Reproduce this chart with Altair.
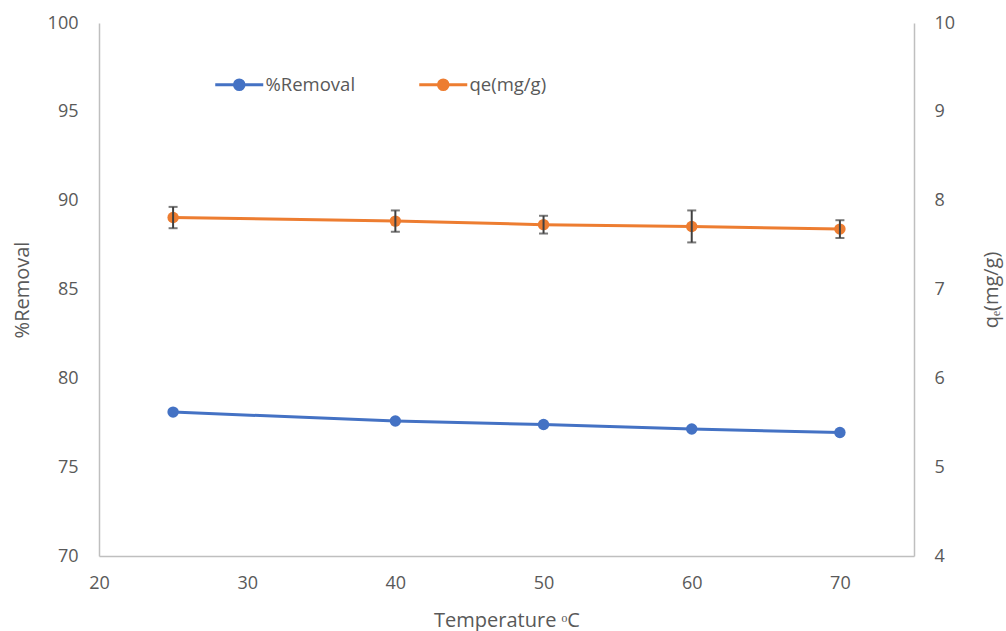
import altair as alt
import pandas as pd

# Measurements
temperature = [25, 40, 50, 60, 70]
removal = [78.1, 77.6, 77.4, 77.15, 76.95]
qe = [7.81, 7.77, 7.73, 7.71, 7.68]
qe_err = [0.12, 0.12, 0.10, 0.18, 0.10]

series_names = ["%Removal", "qe(mg/g)"]
series_colors = ["#4472C4", "#ED7D31"]

df = pd.DataFrame({
    "temperature": temperature,
    "removal": removal,
    "qe": qe,
    "qe_lo": [v - e for v, e in zip(qe, qe_err)],
    "qe_hi": [v + e for v, e in zip(qe, qe_err)],
    "removal_series": series_names[0],
    "qe_series": series_names[1],
})

TEXT = "#595959"
AXIS_LINE = "#BFBFBF"
W, H = 815, 533

# line with a dot in the middle, used as legend key
legend_symbol = "M-4,0H4M0.8,0A0.8,0.8,0,1,1,-0.8,0A0.8,0.8,0,1,1,0.8,0Z"

color_scale = alt.Scale(domain=series_names, range=series_colors)
legend = alt.Legend(
    title=None,
    orient="none",
    legendX=131,
    legendY=52,
    direction="horizontal",
    symbolType=legend_symbol,
    symbolSize=144,
    symbolStrokeWidth=3,
    labelOffset=17,
    labelFontSize=18.5,
    labelColor=TEXT,
    labelFont="Open Sans",
    columnPadding=57,
    padding=0,
)

x_enc = alt.X(
    "temperature:Q",
    scale=alt.Scale(domain=[20, 75], nice=False),
    axis=alt.Axis(
        values=[20, 30, 40, 50, 60, 70],
        title="Temperature ᵒC",
        titleX=W / 2,
        titleY=64,
        titleBaseline="middle",
        labelPadding=18,
        labelFlush=False,
    ),
)

base = alt.Chart(df)

removal_axis = alt.Axis(
    values=[70, 75, 80, 85, 90, 95, 100],
    format="d",
    title="%Removal",
    titleAngle=270,
    titleX=-77,
    titleY=H / 2,
    titleBaseline="middle",
    titleAlign="center",
    labelPadding=21,
    labelFlush=False,
)
removal_y = alt.Y("removal:Q", scale=alt.Scale(domain=[70, 100], nice=False), axis=removal_axis)
removal_color = alt.Color("removal_series:N", scale=color_scale, legend=legend)

removal_layer = alt.layer(
    base.mark_line(strokeWidth=3).encode(x=x_enc, y=removal_y, color=removal_color),
    base.mark_point(filled=True, size=130, opacity=1).encode(x=x_enc, y=removal_y, color=removal_color),
)

qe_axis = alt.Axis(
    orient="right",
    values=[4, 5, 6, 7, 8, 9, 10],
    format="d",
    title="qₑ(mg/g)",
    titleAngle=270,
    titleX=77,
    titleY=H / 2,
    titleBaseline="middle",
    titleAlign="center",
    labelPadding=20,
    labelFlush=False,
)
qe_y = alt.Y("qe:Q", scale=alt.Scale(domain=[4, 10], nice=False), axis=qe_axis)
qe_color = alt.Color("qe_series:N", scale=color_scale, legend=legend)

qe_layer = alt.layer(
    base.mark_line(strokeWidth=3).encode(x=x_enc, y=qe_y, color=qe_color),
    base.mark_point(filled=True, size=130, opacity=1).encode(x=x_enc, y=qe_y, color=qe_color),
    base.mark_errorbar(
        ticks=alt.TickConfig(size=9, thickness=2, color="#404040"),
        color="#404040",
        thickness=2,
    ).encode(
        x=x_enc,
        y=alt.Y("qe_lo:Q", scale=alt.Scale(domain=[4, 10], nice=False), title=""),
        y2="qe_hi:Q",
    ),
)

chart = (
    alt.layer(removal_layer, qe_layer)
    .resolve_scale(y="independent")
    .properties(
        width=W,
        height=H,
        autosize=alt.AutoSizeParams(type="none"),
        padding={"left": 99, "top": 23, "right": 92, "bottom": 75},
    )
    .configure(font="Open Sans", background="white")
    .configure_view(stroke=None)
    .configure_axis(
        grid=False,
        ticks=False,
        domainColor=AXIS_LINE,
        domainWidth=1.5,
        labelColor=TEXT,
        labelFontSize=18,
        labelFont="Open Sans",
        titleColor=TEXT,
        titleFontSize=20,
        titleFont="Open Sans",
        titleFontWeight="normal",
    )
)

chart.save("out.html", embed_options={"renderer": "svg", "actions": False})
